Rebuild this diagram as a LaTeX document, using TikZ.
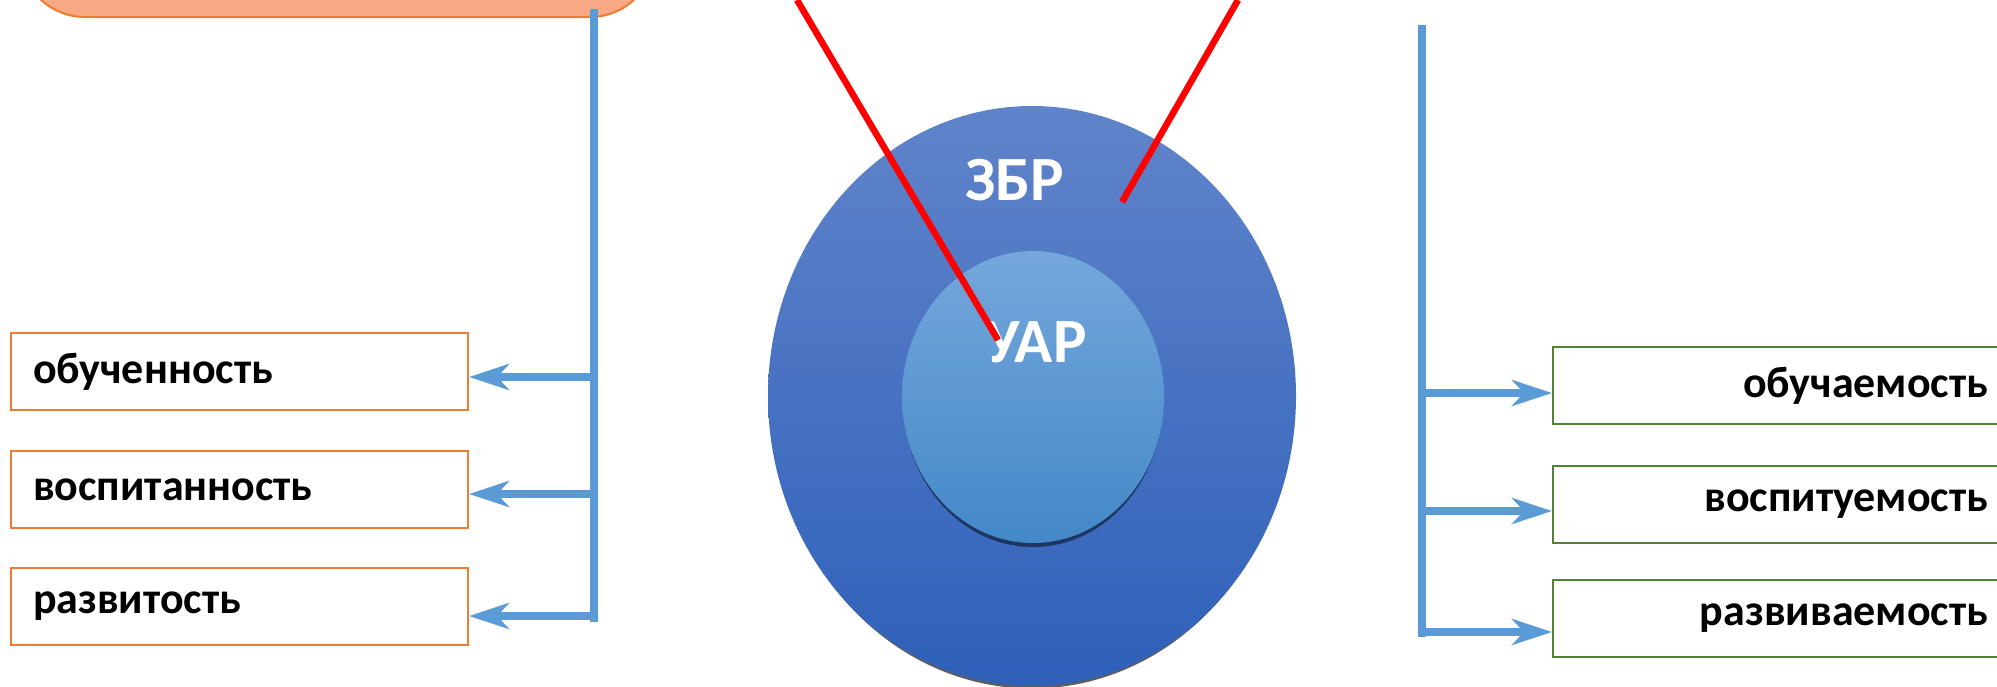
\documentclass[tikz,border=0pt]{standalone}
\usepackage{fontspec}
\setmainfont{Carlito}
\usetikzlibrary{arrows.meta,shapes.geometric}
\definecolor{lineblue}{HTML}{5B9BD5}
\definecolor{orangeb}{HTML}{ED7D31}
\definecolor{orangef}{HTML}{F8A883}
\definecolor{greenb}{HTML}{548235}
\definecolor{outtop}{HTML}{6084CA}
\definecolor{outbot}{HTML}{2E60B9}
\definecolor{intop}{HTML}{75A7DC}
\definecolor{inbot}{HTML}{4388C8}
\definecolor{shadowgray}{HTML}{5E5E5E}
\definecolor{innershadow}{HTML}{1E3562}
\tikzset{
  leftbox/.style={draw=orangeb, line width=2pt, fill=white, minimum width=457pt, minimum height=77pt,
    text width=413pt, inner xsep=22pt, align=left, font=\fontsize{44}{50}\selectfont\bfseries, anchor=north west},
  rightbox/.style={draw=greenb, line width=2pt, fill=white, minimum width=460pt, minimum height=77pt,
    text width=410pt, inner xsep=25pt, align=right, font=\fontsize{44}{50}\selectfont\bfseries, anchor=north west},
  vline/.style={draw=lineblue, line width=8pt},
  arr/.style={draw=lineblue, line width=8pt, -{Stealth[length=40pt, width=26pt, inset=12pt]}},
  redline/.style={draw=red, line width=6.5pt},
  bigtext/.style={text=white, font=\fontsize{63}{70}\selectfont\bfseries}
}
\begin{document}
\begin{tikzpicture}[x=1pt,y=-1pt]
\useasboundingbox (0,0) rectangle (1997,686);
\clip (0,0) rectangle (1997,686);
% top orange box
\node[draw=orangeb, line width=2pt, fill=orangef, rounded corners=65pt, minimum width=635pt, minimum height=117pt] (top) at (337.5,-41.5) {};
% left side
\node[leftbox] (lb1) at (10,332) {обученность};
\node[leftbox] (lb2) at (10,450) {воспитанность};
\node[leftbox] (lb3) at (10,567) {развитость};
\coordinate (ltop) at (594,9);
\coordinate (lbot) at (594,622);
\draw[vline] (ltop) -- (lbot);
\coordinate (la1) at (594,377);
\coordinate (la2) at (594,494);
\coordinate (la3) at (594,616);
\draw[arr] (la1) -- (la1 -| lb1.east);
\draw[arr] (la2) -- (la2 -| lb2.east);
\draw[arr] (la3) -- (la3 -| lb3.east);
% right side
\node[rightbox] (rb1) at (1552,346) {обучаемость};
\node[rightbox] (rb2) at (1552,465) {воспитуемость};
\node[rightbox] (rb3) at (1552,579) {развиваемость};
\coordinate (rtop) at (1422,25);
\coordinate (rbot) at (1422,637);
\draw[vline] (rtop) -- (rbot);
\coordinate (ra1) at (1422,393);
\coordinate (ra2) at (1422,511);
\coordinate (ra3) at (1422,632);
\draw[arr] (ra1) -- (ra1 -| rb1.west);
\draw[arr] (ra2) -- (ra2 -| rb2.west);
\draw[arr] (ra3) -- (ra3 -| rb3.west);
% circles
\node[ellipse, fill=shadowgray, minimum width=522pt, minimum height=580pt, inner sep=0pt] (outshadow) at (1032,398.5) {};
\node[ellipse, top color=outtop, bottom color=outbot, minimum width=528pt, minimum height=580pt, inner sep=0pt] (outer) at (1032,396) {};
\node[ellipse, fill=innershadow, minimum width=260pt, minimum height=294pt, inner sep=0pt] (inshadow) at (1033,400) {};
\node[ellipse, top color=intop, bottom color=inbot, minimum width=262pt, minimum height=292pt, inner sep=0pt] (inner) at (1033,397) {};
\node[bigtext] (zbr) at (1015,180) {ЗБР};
\node[bigtext] (uar) at (1036,342) {УАР};
% red lines
\coordinate (r1a) at (797,0);
\coordinate (r1b) at (998,340);
\coordinate (r2a) at (1238,0);
\coordinate (r2b) at (1122,202);
\draw[redline] (r1a) -- (r1b);
\draw[redline] (r2a) -- (r2b);
\end{tikzpicture}
\end{document}
